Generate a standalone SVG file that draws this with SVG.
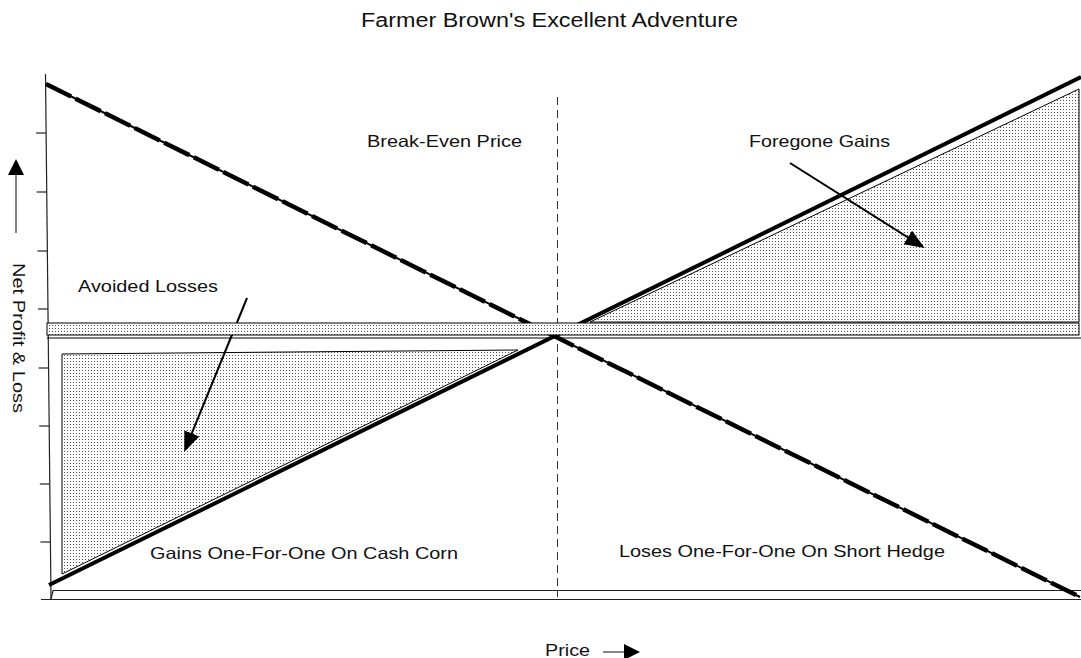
<svg xmlns="http://www.w3.org/2000/svg" width="1081" height="658" viewBox="0 0 1081 658">
<style>
text{font-family:"Liberation Sans",Arial,sans-serif;fill:#111}
.lbl{font-size:16.5px}
.title{font-size:19.5px}
.thin{stroke:#000;stroke-width:1;fill:none}
.axis{stroke:#222;stroke-width:1.2;fill:none}
.shade{fill:url(#dots);stroke:#000;stroke-width:1}
.cash{stroke:#000;stroke-width:4;fill:none}
.hedge-base{stroke:#000;stroke-width:2;fill:none}
.hedge{stroke:#000;stroke-width:4.5;fill:none;stroke-dasharray:28 5}
.arrow{stroke:#000;stroke-width:2;fill:none;marker-end:url(#head)}
.axarrow{stroke:#444;stroke-width:1.3;fill:none;marker-end:url(#head2)}
.be{stroke:#333;stroke-width:1;stroke-dasharray:8 5;fill:none}
</style>
<defs>
<pattern id="dots" patternUnits="userSpaceOnUse" width="3" height="3">
<rect width="3" height="3" fill="#fff"/>
<rect x="1" y="1" width="1" height="1" fill="#555"/>
</pattern>
<marker id="head" markerUnits="userSpaceOnUse" markerWidth="20" markerHeight="18" viewBox="0 0 20 18" refX="9" refY="9" orient="auto">
<path d="M0,1 L20,9 L0,17 Z" fill="#000"/>
</marker>
<marker id="head2" markerUnits="userSpaceOnUse" markerWidth="16" markerHeight="16" viewBox="0 0 16 16" refX="8" refY="8" orient="auto">
<path d="M0,0 L16,8 L0,16 Z" fill="#000"/>
</marker>
</defs>

<g id="title"><text class="title" x="361" y="27" textLength="377" lengthAdjust="spacingAndGlyphs">Farmer Brown's Excellent Adventure</text></g>

<g id="axes">
<line class="axis" x1="45.5" y1="74" x2="51" y2="599"/>
<line class="axis" x1="41" y1="599.5" x2="1081" y2="599.5"/>
<line class="axis" x1="53" y1="590.5" x2="1081" y2="590.5"/>
<line class="axis" x1="51" y1="599" x2="53" y2="590.5"/>
<g id="ticks">
<line class="axis" x1="36.1" y1="133" x2="46.1" y2="133"/>
<line class="axis" x1="36.7" y1="192" x2="46.7" y2="192"/>
<line class="axis" x1="37.4" y1="251" x2="47.4" y2="251"/>
<line class="axis" x1="38" y1="309" x2="48" y2="309"/>
<line class="axis" x1="38.6" y1="368" x2="48.6" y2="368"/>
<line class="axis" x1="39.2" y1="426" x2="49.2" y2="426"/>
<line class="axis" x1="39.8" y1="484" x2="49.8" y2="484"/>
<line class="axis" x1="40.4" y1="542" x2="50.4" y2="542"/>
</g>
</g>

<g id="avoided-losses-area"><polygon class="shade" points="62,354 518,350 62,574"/></g>
<g id="foregone-gains-area"><polygon class="shade" points="590,322 1079,89 1079,322"/></g>

<g id="break-even-line"><line class="be" x1="557.5" y1="97" x2="557.5" y2="597"/></g>

<g id="connectors">
<line class="cash" x1="49" y1="585" x2="1081" y2="77"/>
<line class="hedge-base" x1="46" y1="84" x2="1080" y2="597"/>
<line class="hedge" x1="46" y1="84" x2="1080" y2="597"/>
<line class="arrow" x1="247" y1="298" x2="188.4" y2="441.7"/>
<line class="arrow" x1="790" y1="163" x2="915.4" y2="242.2"/>
<line class="axarrow" x1="16" y1="233" x2="16" y2="167"/>
<line class="axarrow" x1="603" y1="652" x2="632" y2="652"/>
</g>

<g id="zero-band">
<rect x="47" y="323" width="1032" height="12" fill="url(#dots)" stroke="#000" stroke-width="1"/>
<line class="thin" x1="47" y1="338" x2="1081" y2="338"/>
</g>

<g id="labels">
<text class="lbl" x="367" y="147" textLength="155" lengthAdjust="spacingAndGlyphs">Break-Even Price</text>
<text class="lbl" x="749" y="147" textLength="141" lengthAdjust="spacingAndGlyphs">Foregone Gains</text>
<text class="lbl" x="78" y="291.5" textLength="140" lengthAdjust="spacingAndGlyphs">Avoided Losses</text>
<text class="lbl" x="150" y="559" textLength="308" lengthAdjust="spacingAndGlyphs">Gains One-For-One On Cash Corn</text>
<text class="lbl" x="619" y="557" textLength="326" lengthAdjust="spacingAndGlyphs">Loses One-For-One On Short Hedge</text>
<text class="lbl" transform="translate(13,263) rotate(90)" textLength="150" lengthAdjust="spacingAndGlyphs">Net Profit &amp; Loss</text>
<text class="lbl" x="545" y="656" textLength="45" lengthAdjust="spacingAndGlyphs">Price</text>
</g>
</svg>
